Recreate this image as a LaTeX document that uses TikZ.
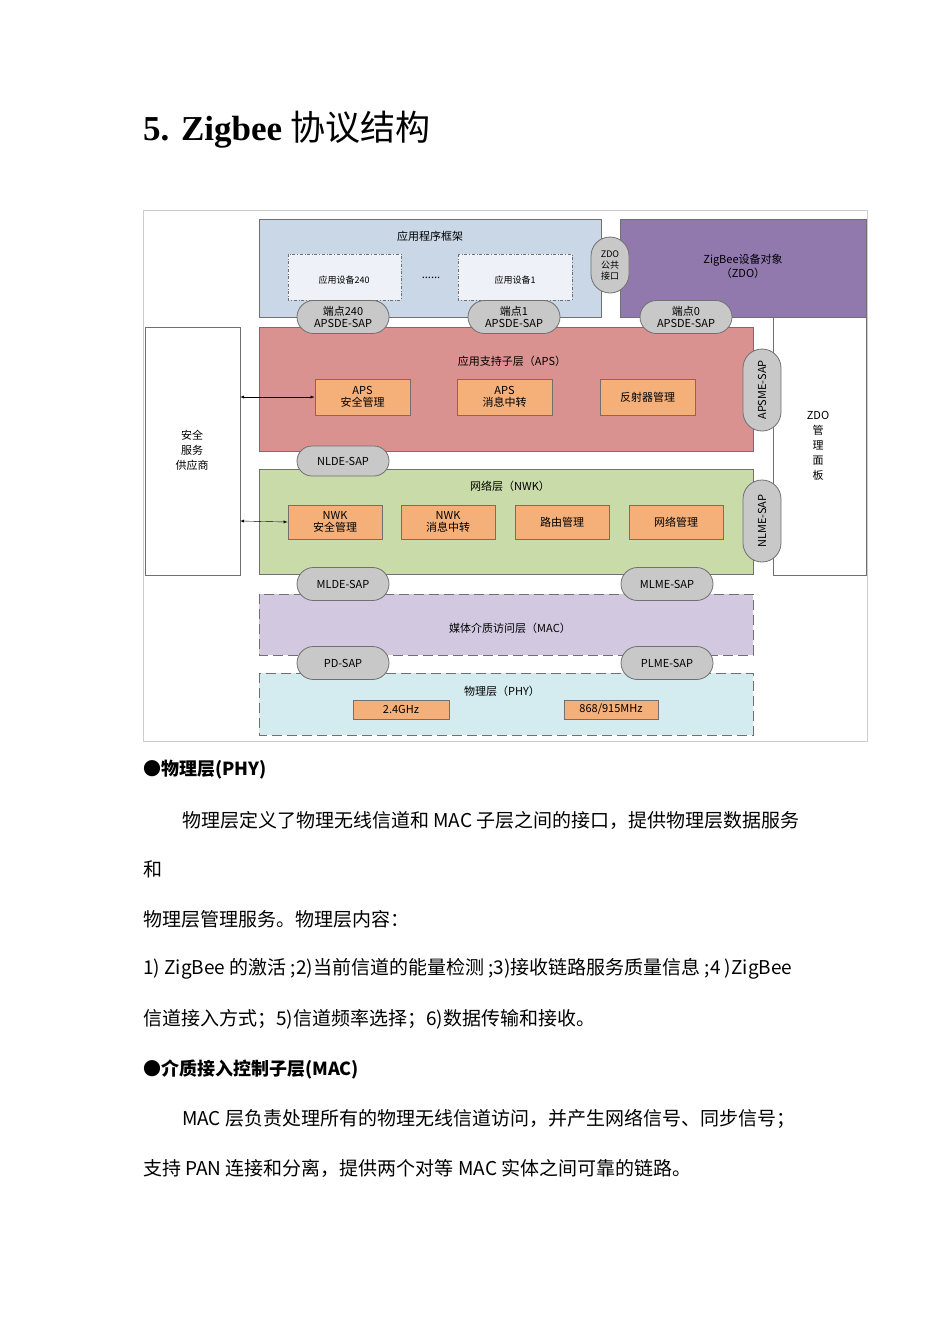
\documentclass[tikz,border=0pt]{standalone}
\usepackage{fontspec}
\setmainfont{Liberation Serif}
\newfontfamily\cjk{Noto Sans CJK SC}
\usetikzlibrary{shapes.misc}
\definecolor{afw}{HTML}{C9D7E6}
\definecolor{devc}{HTML}{EEF1F8}
\definecolor{zdoc}{HTML}{9179AE}
\definecolor{apsc}{HTML}{DA9290}
\definecolor{orc}{HTML}{F5B07A}
\definecolor{nwkc}{HTML}{C8DBA9}
\definecolor{macc}{HTML}{D2C9E0}
\definecolor{phyc}{HTML}{D4EBEF}
\definecolor{pillc}{HTML}{C8C8C8}
\definecolor{edge}{HTML}{707070}
\tikzset{
  lay/.style={draw=edge,line width=0.8pt},
  orbox/.style={draw=edge,fill=orc,line width=0.8pt,font=\cjk\fontsize{11}{12}\selectfont,align=center},
  pill/.style={draw=edge,fill=pillc,rounded rectangle,line width=0.8pt,minimum width=94pt,minimum height=33pt,inner sep=1pt,font=\cjk\fontsize{11}{12}\selectfont,align=center},
  vpill/.style={pill,rotate=90,minimum width=84pt,minimum height=38pt},
  lab/.style={font=\cjk\fontsize{11}{14}\selectfont,align=center},
  ldash/.style={dash pattern=on 10pt off 5pt},
  body/.style={anchor=west,font=\cjk\fontsize{19}{22}\selectfont,inner sep=0pt}
}
\begin{document}
\begin{tikzpicture}[x=1pt,y=-1pt]
\useasboundingbox (0,0) rectangle (950,1344);
\node[anchor=west,inner sep=0pt,font=\fontsize{35}{40}\selectfont] (title) at (143,130) {\textbf{5. Zigbee} {\cjk 协议结构}};
\draw[gray!40] (143,210) rectangle (867,741);
% app framework
\draw[lay,fill=afw] (259,219) rectangle (601,317);
\node[lab] (afwt) at (430,236) {应用程序框架};
\draw[edge,fill=devc,dash dot] (288,254) rectangle (401,300);
\node[lab,font=\cjk\fontsize{9}{10}\selectfont] (d240) at (344,280) {应用设备240};
\draw[edge,fill=devc,dash dot] (458,254) rectangle (572,300);
\node[lab,font=\cjk\fontsize{9}{10}\selectfont] (d1) at (515,280) {应用设备1};
\node[lab] (dots) at (431,278) {......};
% ZDO
\draw[lay,fill=zdoc] (620,219) rectangle (866,317);
\node[lab] (zdot) at (743,266) {ZigBee设备对象\\（ZDO）};
\node[pill,rotate=90,minimum width=58pt,minimum height=38pt] (zpub) at (610,265) {};
\node[lab,font=\cjk\fontsize{9}{11}\selectfont] (zpubt) at (610,266) {ZDO\\公共\\接口};
% side boxes
\draw[lay,fill=white] (145,327) rectangle (240,575);
\node[lab,font=\cjk\fontsize{11}{15}\selectfont] (sec) at (192,450) {安全\\服务\\供应商};
\draw[lay,fill=white] (773,317) rectangle (866,575);
\node[lab,font=\cjk\fontsize{11}{15}\selectfont] (zmg) at (818,446) {ZDO\\管\\理\\面\\板};
% APS
\draw[lay,fill=apsc] (259,327) rectangle (753,451);
\node[lab] (apst) at (512,361) {应用支持子层（APS）};
\node[orbox,minimum width=95pt,minimum height=36pt] (apssec) at (362.5,397) {APS\\安全管理};
\node[orbox,minimum width=95pt,minimum height=36pt] (apsmsg) at (504.5,397) {APS\\消息中转};
\node[orbox,minimum width=95pt,minimum height=36pt] (refl) at (647.5,397) {反射器管理};
\node[vpill] (apsme) at (762,390) {APSME-SAP};
\node[pill] (ep240) at (343,317) {端点240\\APSDE-SAP};
\node[pill] (ep1) at (514,317) {端点1\\APSDE-SAP};
\node[pill] (ep0) at (686,317) {端点0\\APSDE-SAP};
% NWK
\draw[lay,fill=nwkc] (259,469) rectangle (753,574);
\node[lab] (nwkt) at (510,486) {网络层（NWK）};
\node[orbox,minimum width=94pt,minimum height=34pt] (nsec) at (335,522) {NWK\\安全管理};
\node[orbox,minimum width=94pt,minimum height=34pt] (nmsg) at (448,522) {NWK\\消息中转};
\node[orbox,minimum width=94pt,minimum height=34pt] (rout) at (562,522) {路由管理};
\node[orbox,minimum width=94pt,minimum height=34pt] (nman) at (676,522) {网络管理};
\node[vpill] (nlme) at (762,521) {NLME-SAP};
\node[pill,minimum height=30pt] (nlde) at (343,461) {NLDE-SAP};
% MAC
\draw[edge,fill=macc,ldash,line width=0.8pt] (259,594) rectangle (753,655);
\node[lab] (mact) at (510,628) {媒体介质访问层（MAC）};
\node[pill] (mlde) at (343,584) {MLDE-SAP};
\node[pill] (mlme) at (667,584) {MLME-SAP};
% PHY
\draw[edge,fill=phyc,ldash,line width=0.8pt] (259,673) rectangle (753,735);
\node[lab] (phyt) at (502,691) {物理层（PHY）};
\node[orbox,minimum width=96pt,minimum height=19pt,inner sep=1pt] (g24) at (401,709.5) {2.4GHz};
\node[orbox,minimum width=94pt,minimum height=19pt,inner sep=1pt] (g868) at (611,709.5) {868/915MHz};
\node[pill] (pdsap) at (343,663) {PD-SAP};
\node[pill] (plme) at (667,663) {PLME-SAP};
% arrows
\coordinate (s1) at (240,397);
\coordinate (s2) at (240,521);
\draw[<->,>=latex] (s1) -- (apssec.west);
\draw[<->,>=latex] (s2) -- (nsec.west);
% body text
\node[body,font=\cjk\bfseries\fontsize{18}{22}\selectfont] (h1) at (143,770) {●物理层(PHY)};
\node[body] (p1) at (182,820) {物理层定义了物理无线信道和 MAC 子层之间的接口，提供物理层数据服务};
\node[body] (p2) at (143,869) {和};
\node[body] (p3) at (143,919) {物理层管理服务。物理层内容：};
\node[body] (p4) at (143,969) {1) ZigBee 的激活 ;2)当前信道的能量检测 ;3)接收链路服务质量信息 ;4 )ZigBee};
\node[body] (p5) at (143,1019) {信道接入方式；5)信道频率选择；6)数据传输和接收。};
\node[body,font=\cjk\bfseries\fontsize{18}{22}\selectfont] (h2) at (143,1069) {●介质接入控制子层(MAC)};
\node[body] (p6) at (182,1119) {MAC 层负责处理所有的物理无线信道访问，并产生网络信号、同步信号；};
\node[body] (p7) at (143,1168) {支持 PAN 连接和分离，提供两个对等 MAC 实体之间可靠的链路。};
\end{tikzpicture}
\end{document}
